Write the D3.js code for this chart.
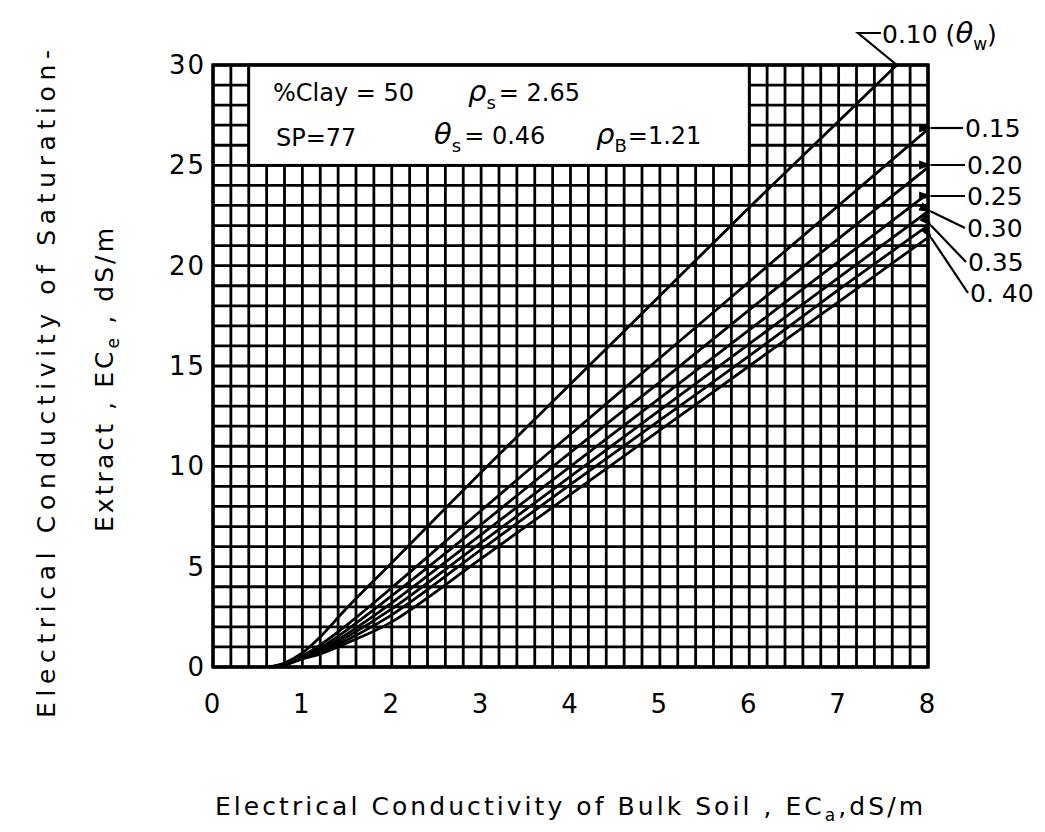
<!DOCTYPE html>
<html>
<head>
  <meta charset="utf-8"/>
  <script src="https://d3js.org/d3.v7.min.js"></script>
  <style>
body { margin: 0; background: #fff; }
text { font-family: "DejaVu Sans", sans-serif; fill: #000; }
.tick-label { font-size: 26px; }
.axis-title { font-size: 25px; }
.box-text { font-size: 24px; }
.curve-label { font-size: 25px; }
  </style>
</head>
<body>
<svg width="1045" height="832"></svg>
<script>

// bulk soil EC (x) where each curve was read
var ecA = [0.62, 0.8, 1.0, 1.2, 1.5, 2, 3, 4, 5, 6, 7, 8];

// saturation-extract EC (y) for each water content
var ecE_010 = [0, 0.2, 0.7, 1.5, 2.95, 5.2, 9.7, 14.1, 18.5, 22.9, 27.2, 31.5];
var ecE_015 = [0, 0.15, 0.55, 1.1, 2.1, 3.95, 7.8, 11.6, 15.4, 19.2, 23.0, 26.8];
var ecE_020 = [0, 0.13, 0.5, 0.95, 1.85, 3.55, 7.1, 10.7, 14.2, 17.8, 21.35, 24.9];
var ecE_025 = [0, 0.12, 0.48, 0.85, 1.65, 3.2, 6.6, 10.0, 13.4, 16.8, 20.2, 23.6];
var ecE_030 = [0, 0.11, 0.45, 0.8, 1.5, 2.9, 6.2, 9.5, 12.8, 16.1, 19.4, 22.7];
var ecE_035 = [0, 0.1, 0.42, 0.72, 1.35, 2.6, 5.85, 9.1, 12.3, 15.5, 18.8, 22.0];
var ecE_040 = [0, 0.1, 0.4, 0.65, 1.2, 2.25, 5.4, 8.6, 11.8, 15.0, 18.2, 21.4];

var thetaW = ["0.10", "0.15", "0.20", "0.25", "0.30", "0.35", "0.40"];
var seriesValues = [ecE_010, ecE_015, ecE_020, ecE_025, ecE_030, ecE_035, ecE_040];

var xTicks = [0, 1, 2, 3, 4, 5, 6, 7, 8];
var yTicks = [0, 5, 10, 15, 20, 25, 30];

// label placement (pixels) : [text x, text y, leader kind]
var labelPos = [
  [882, 34, "v"],
  [965, 128, "arrow"],
  [967, 165, "arrow"],
  [967, 196, "arrow"],
  [967, 228, "diag"],
  [968, 262, "diag"],
  [970, 293, "diag"]
];

var svg = d3.select("svg");

var x = d3.scaleLinear().domain([0, 8]).range([213, 928]);
var y = d3.scaleLinear().domain([0, 30]).range([667, 65]);

var defs = svg.append("defs");
defs.append("clipPath").attr("id", "plot-clip")
  .append("rect")
    .attr("x", x(0)).attr("y", y(30))
    .attr("width", x(8) - x(0)).attr("height", y(0) - y(30));

defs.append("marker")
    .attr("id", "arrow")
    .attr("viewBox", "0 0 10 10")
    .attr("refX", 1).attr("refY", 5)
    .attr("markerWidth", 6).attr("markerHeight", 6)
    .attr("orient", "auto-start-reverse")
  .append("path")
    .attr("d", "M0,5 L10,1.5 L10,8.5 Z")
    .attr("fill", "#000");

// grid
var grid = svg.append("g").attr("stroke", "#000").attr("stroke-width", 2.8);

grid.selectAll(".vline")
  .data(d3.range(0, 41).map(function(i) { return i * 0.2; }))
  .enter().append("line")
    .attr("x1", function(d) { return x(d); })
    .attr("x2", function(d) { return x(d); })
    .attr("y1", y(0)).attr("y2", y(30));

grid.selectAll(".hline")
  .data(d3.range(0, 31))
  .enter().append("line")
    .attr("x1", x(0)).attr("x2", x(8))
    .attr("y1", function(d) { return y(d); })
    .attr("y2", function(d) { return y(d); });

// info box blanks the grid in the top-left
svg.append("rect")
    .attr("x", x(0.4)).attr("y", y(30))
    .attr("width", x(6) - x(0.4)).attr("height", y(25) - y(30))
    .attr("fill", "#fff")
    .attr("stroke", "#000")
    .attr("stroke-width", 2.8);

// frame
svg.append("rect")
    .attr("x", x(0)).attr("y", y(30))
    .attr("width", x(8) - x(0)).attr("height", y(0) - y(30))
    .attr("fill", "none")
    .attr("stroke", "#000")
    .attr("stroke-width", 3.4);

// curves
var line = d3.line()
    .x(function(d) { return x(d[0]); })
    .y(function(d) { return y(d[1]); })
    .curve(d3.curveCatmullRom.alpha(0.5));

svg.append("g")
    .attr("clip-path", "url(#plot-clip)")
  .selectAll("path")
  .data(seriesValues)
  .enter().append("path")
    .attr("d", function(vals) { return line(vals.map(function(v, i) { return [ecA[i], v]; })); })
    .attr("fill", "none")
    .attr("stroke", "#000")
    .attr("stroke-width", 2.8);

// tick labels
svg.selectAll(".xt")
  .data(xTicks)
  .enter().append("text")
    .attr("class", "tick-label")
    .attr("x", function(d) { return x(d); })
    .attr("y", 713)
    .attr("text-anchor", "middle")
    .style("letter-spacing", "2px")
    .text(function(d) { return d; });

svg.selectAll(".yt")
  .data(yTicks)
  .enter().append("text")
    .attr("class", "tick-label")
    .attr("x", 206)
    .attr("y", function(d) { return y(d) + 9; })
    .attr("text-anchor", "end")
    .style("letter-spacing", "2px")
    .text(function(d) { return d; });

// axis titles
var xt = svg.append("text")
    .attr("class", "axis-title")
    .attr("x", 215).attr("y", 815)
    .attr("textLength", 708).attr("lengthAdjust", "spacing");
xt.append("tspan").text("Electrical Conductivity of Bulk Soil , EC");
xt.append("tspan").attr("dy", 6).style("font-size", "17px").text("a");
xt.append("tspan").attr("dy", -6).text(",dS/m");

svg.append("text")
    .attr("class", "axis-title")
    .attr("transform", "translate(55,718) rotate(-90)")
    .attr("textLength", 668).attr("lengthAdjust", "spacing")
    .text("Electrical Conductivity of Saturation-");

var yt2 = svg.append("text")
    .attr("class", "axis-title")
    .attr("transform", "translate(113,532) rotate(-90)")
    .attr("textLength", 304).attr("lengthAdjust", "spacing");
yt2.append("tspan").text("Extract , EC");
yt2.append("tspan").attr("dy", 6).style("font-size", "17px").text("e");
yt2.append("tspan").attr("dy", -6).text(" , dS/m");

// info box text
function boxText(px, py, parts) {
  var t = svg.append("text").attr("class", "box-text").attr("x", px).attr("y", py);
  parts.forEach(function(p) {
    var s = t.append("tspan").text(p.t);
    if (p.sub) s.attr("dy", 8).style("font-size", "18px");
    if (p.up) s.attr("dy", -8);
    if (p.it) s.style("font-style", "italic").style("font-size", "29px");
    if (p.dx) s.attr("dx", p.dx);
  });
}
boxText(273, 101, [{t: "%Clay = 50"}]);
boxText(468, 101, [{t: "ρ", it: 1}, {t: "s", sub: 1}, {t: "= 2.65", up: 1, dx: 3}]);
boxText(276, 146, [{t: "SP=77"}]);
boxText(434, 144, [{t: "θ", it: 1}, {t: "s", sub: 1}, {t: "= 0.46", up: 1, dx: 3}]);
boxText(596, 144, [{t: "ρ", it: 1}, {t: "B", sub: 1}, {t: "=1.21", up: 1, dx: 1}]);

// curve labels and leaders
var labels = svg.append("g");
seriesValues.forEach(function(vals, i) {
  var lp = labelPos[i];
  var n = vals.length;
  var ex, ey;
  if (vals[n - 1] > 30) {
    // find where the curve leaves the top of the frame
    var a = n - 2, b = n - 1;
    var f = (30 - vals[a]) / (vals[b] - vals[a]);
    ex = x(ecA[a] + f * (ecA[b] - ecA[a]));
    ey = y(30);
  } else {
    ex = x(ecA[n - 1]);
    ey = y(vals[n - 1]);
  }
  if (lp[2] === "v") {
    labels.append("path")
      .attr("d", "M" + ex + "," + ey + " L" + (lp[0] - 24) + "," + (lp[1] - 1) + " L" + (lp[0] - 1) + "," + (lp[1] - 1))
      .attr("fill", "none").attr("stroke", "#000").attr("stroke-width", 2.2);
    var t = labels.append("text").attr("class", "curve-label")
      .attr("x", lp[0]).attr("y", lp[1] + 9).text(thetaW[i] + " (");
    t.append("tspan").style("font-style", "italic").style("font-size", "29px").text("θ");
    t.append("tspan").attr("dy", 7).style("font-size", "17px").text("w");
    t.append("tspan").attr("dy", -7).text(")");
  } else {
    labels.append("line")
      .attr("x1", ex + 3).attr("y1", lp[2] === "arrow" ? lp[1] : ey)
      .attr("x2", lp[0] - 2).attr("y2", lp[1])
      .attr("stroke", "#000").attr("stroke-width", 2.2)
      .attr("marker-start", "url(#arrow)");
    labels.append("text").attr("class", "curve-label")
      .attr("x", lp[0]).attr("y", lp[1] + 9)
      .text(i === 6 ? "0. 40" : thetaW[i]);
  }
});

</script>
</body>
</html>
